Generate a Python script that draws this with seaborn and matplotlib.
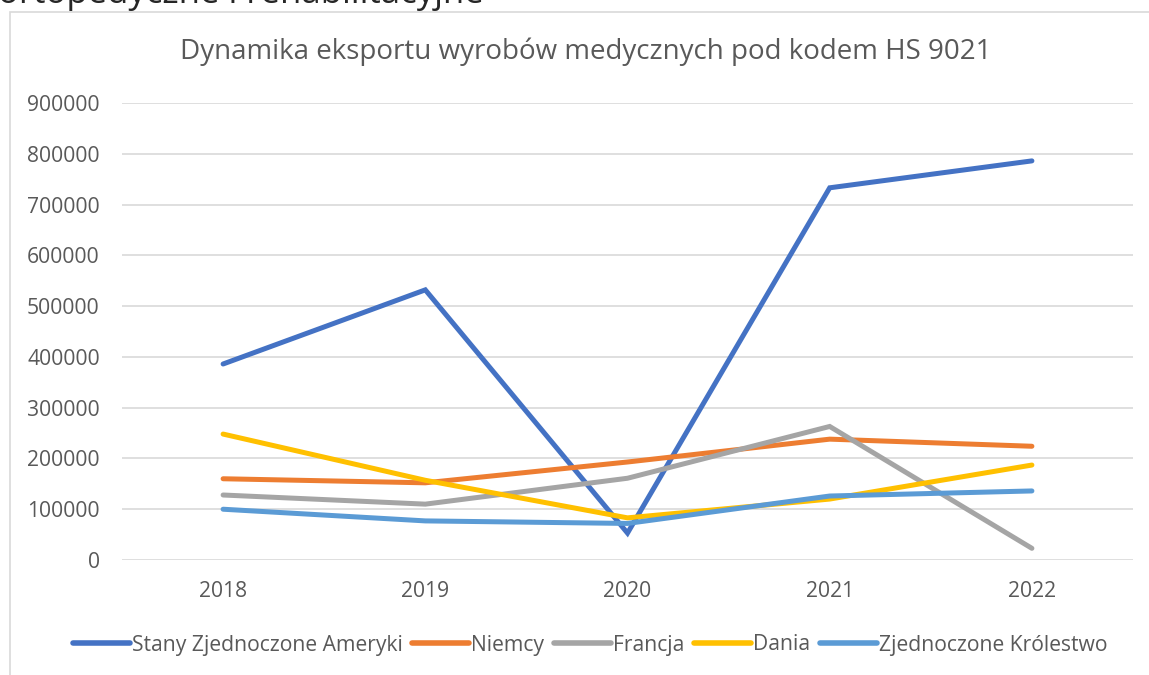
import matplotlib
matplotlib.use("Agg")
import matplotlib.pyplot as plt
import matplotlib.patches as mpatches
import seaborn as sns
import pandas as pd

years = [2018, 2019, 2020, 2021, 2022]
series_names = ["Stany Zjednoczone Ameryki", "Niemcy", "Francja", "Dania", "Zjednoczone Królestwo"]
usa = [386000, 532000, 53000, 733000, 786000]
niemcy = [160000, 152000, 193000, 238000, 224000]
francja = [128000, 110000, 161000, 263000, 23000]
dania = [248000, 157000, 83000, 120000, 187000]
uk = [100000, 77000, 72000, 126000, 136000]
colors = ["#4472C4", "#ED7D31", "#A5A5A5", "#FFC000", "#5B9BD5"]
title = "Dynamika eksportu wyrobów medycznych pod kodem HS 9021"
top_text = "ortopedyczne i rehabilitacyjne"
yticks = list(range(0, 900001, 100000))

rows = []
for name, vals in zip(series_names, [usa, niemcy, francja, dania, uk]):
    for y, v in zip(years, vals):
        rows.append({"Rok": y, "Wartość": v, "Kraj": name})
df = pd.DataFrame(rows)

sns.set_theme(style="white")
plt.rcParams["font.family"] = ["Open Sans", "DejaVu Sans"]
txt = "#595959"

W, H = 1149, 675
fig = plt.figure(figsize=(W / 100, H / 100), dpi=100)
ax = fig.add_axes([122 / W, (H - 560) / H, (1133 - 122) / W, (560 - 103) / H])

sns.lineplot(data=df, x="Rok", y="Wartość", hue="Kraj", hue_order=series_names,
             palette=colors, linewidth=3.6, ax=ax, legend=True,
             solid_capstyle="round", solid_joinstyle="miter")

ax.set_xlim(2017.5, 2022.5)
ax.set_ylim(0, 900000)
ax.set_yticks(yticks)
ax.set_yticklabels([str(v) for v in yticks])
ax.set_xticks(years)
ax.set_xticklabels([str(y) for y in years])
ax.set_xlabel("")
ax.set_ylabel("")
ax.grid(axis="y", color="#D9D9D9", linewidth=1.2)
ax.set_axisbelow(True)
for s in ax.spines.values():
    s.set_visible(False)
ax.tick_params(axis="both", length=0, labelsize=15.2, colors=txt)
ax.tick_params(axis="y", pad=16)
ax.tick_params(axis="x", pad=15)

handles, labels = ax.get_legend_handles_labels()
ax.legend_.remove()
leg = fig.legend(handles, labels, loc="center", bbox_to_anchor=(590 / W, (H - 645) / H),
                 ncol=5, frameon=False, fontsize=15.2, handlelength=2.7,
                 handletextpad=0.1, columnspacing=0.45)
for t in leg.get_texts():
    t.set_color(txt)
for l in leg.get_lines():
    l.set_linewidth(4)

fig.text(586 / W, (H - 52) / H, title, ha="center", va="center", fontsize=20, color=txt)

# outer chart border
fig.patches.append(mpatches.Rectangle((10 / W, -0.1), 1.2, 0.1 + (H - 12) / H,
                                      transform=fig.transFigure, fill=False,
                                      edgecolor="#D9D9D9", linewidth=1.2))
# cut-off text above the chart
fig.text(-2 / W, 1 - 3 / H, top_text, ha="left", va="baseline", fontsize=25, color="#262626")

fig.savefig("out.png", dpi=100)
